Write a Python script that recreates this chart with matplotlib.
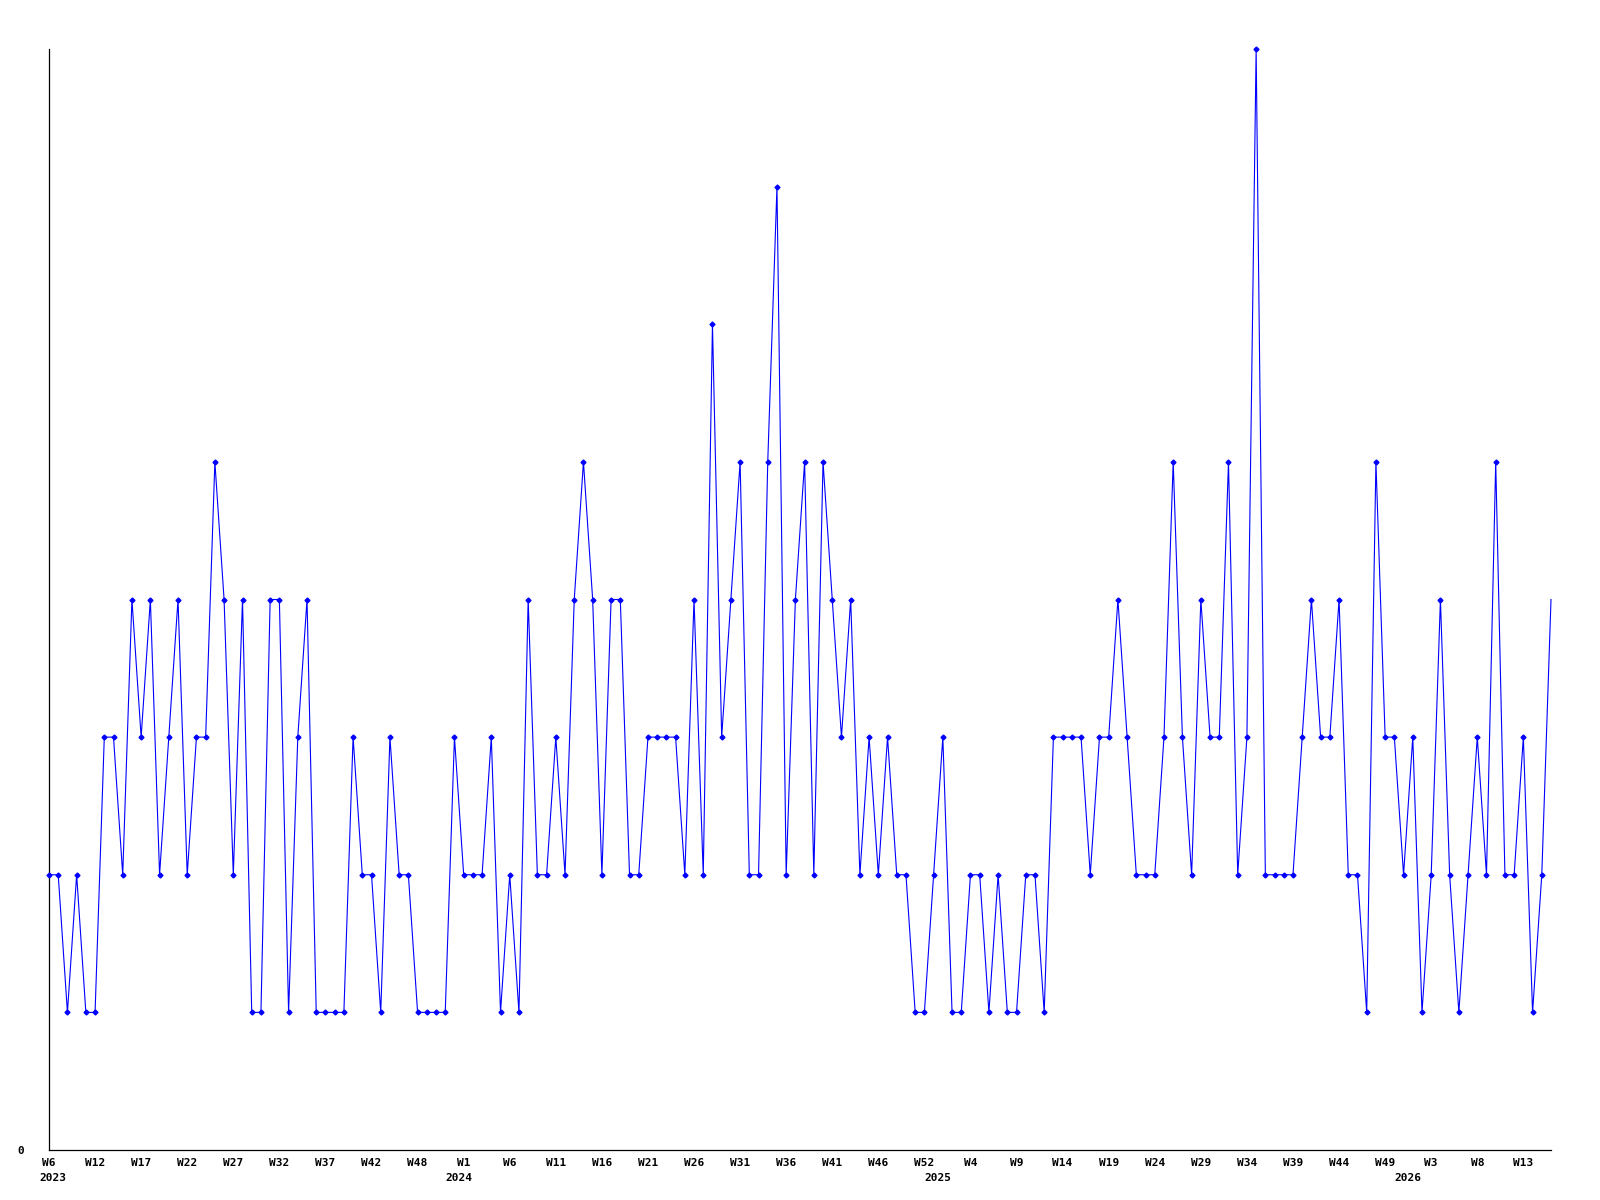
import matplotlib
matplotlib.use("Agg")
import matplotlib.pyplot as plt

# weekly counts, 2023 W6 onwards
values = [2, 2, 1, 2, 1, 1, 3, 3, 2, 4, 3, 4, 2, 3, 4, 2, 3, 3, 5, 4,
          2, 4, 1, 1, 4, 4, 1, 3, 4, 1, 1, 1, 1, 3, 2, 2, 1, 3, 2, 2,
          1, 1, 1, 1, 3, 2, 2, 2, 3, 1, 2, 1, 4, 2, 2, 3, 2, 4, 5, 4,
          2, 4, 4, 2, 2, 3, 3, 3, 3, 2, 4, 2, 6, 3, 4, 5, 2, 2, 5, 7,
          2, 4, 5, 2, 5, 4, 3, 4, 2, 3, 2, 3, 2, 2, 1, 1, 2, 3, 1, 1,
          2, 2, 1, 2, 1, 1, 2, 2, 1, 3, 3, 3, 3, 2, 3, 3, 4, 3, 2, 2,
          2, 3, 5, 3, 2, 4, 3, 3, 5, 2, 3, 8, 2, 2, 2, 2, 3, 4, 3, 3,
          4, 2, 2, 1, 5, 3, 3, 2, 3, 1, 2, 4, 2, 1, 2, 3, 2, 5, 2, 2,
          3, 1, 2, 4]

week_labels = ["W6", "W12", "W17", "W22", "W27", "W32", "W37", "W42", "W48",
               "W1", "W6", "W11", "W16", "W21", "W26", "W31", "W36", "W41",
               "W46", "W52", "W4", "W9", "W14", "W19", "W24", "W29", "W34",
               "W39", "W44", "W49", "W3", "W8", "W13"]
year_labels = ["2023", "2024", "2025", "2026"]
year_pos = [0.45, 44.5, 96.5, 147.5]

W, H = 1600, 1200
fig = plt.figure(figsize=(W / 100, H / 100), dpi=100)
ax = fig.add_axes([49 / W, 1 - 1150 / H, (1551 - 49) / W, (1150 - 49) / H])

x = list(range(len(values)))
ax.plot(x, values, color="#0000ff", lw=0.8, marker="D", ms=2.5,
        markevery=list(range(len(values) - 1)), clip_on=False, zorder=3)

ax.set_xlim(0, len(values) - 1)
ax.set_ylim(0, 8)

for s in ["top", "right"]:
    ax.spines[s].set_visible(False)
for s in ["left", "bottom"]:
    ax.spines[s].set_color("black")
    ax.spines[s].set_linewidth(0.9)

font = dict(family="DejaVu Sans Mono", weight="bold", size=8)

ax.set_xticks(list(range(0, 5 * len(week_labels), 5)))
ax.set_xticklabels(week_labels, **font)
ax.set_yticks([0])
ax.set_yticklabels(["0"], **font)
ax.tick_params(axis="x", length=0, pad=6)
ax.tick_params(axis="y", length=0, pad=18)

for xp, lbl in zip(year_pos, year_labels):
    ax.annotate(lbl, xy=(xp, 0), xycoords=("data", "axes fraction"),
                xytext=(0, -20), textcoords="offset points",
                ha="center", va="center", **font)

fig.savefig("out.png", dpi=100)
